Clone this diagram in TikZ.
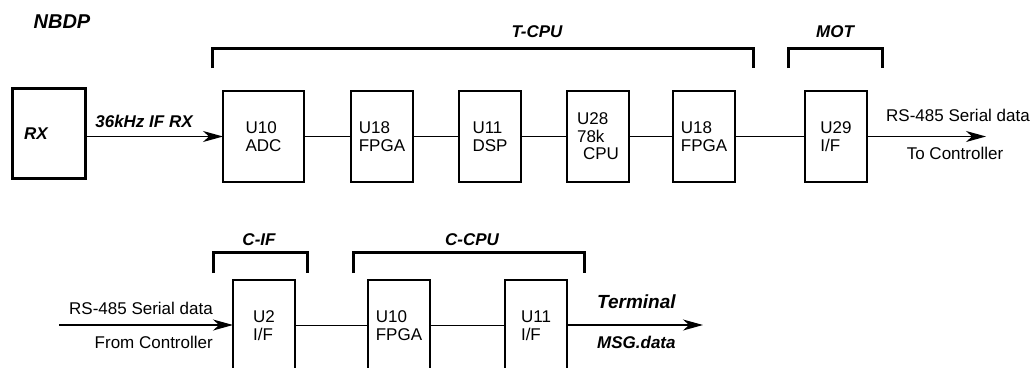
\documentclass[tikz,border=0pt]{standalone}
\usepackage{fontspec}
\setmainfont{Liberation Sans}
\usetikzlibrary{positioning,arrows.meta}

\begin{document}
\begin{tikzpicture}[x=1pt,y=-1pt,>={Stealth[length=20pt,width=11pt,inset=6pt]},
  font=\fontsize{17}{17.5}\selectfont,
  blk/.style={rectangle,draw=black,line width=1.3pt,minimum width=62pt,minimum height=91pt,inner sep=0pt,outer sep=0pt,align=left},
  bi/.style={font=\fontsize{17}{17.5}\selectfont\bfseries\itshape,inner sep=0pt},
  txt/.style={inner sep=0pt},
  brk/.style={line width=3pt},
  ln/.style={line width=1.3pt},
  ar/.style={->,line width=1.3pt}]
\useasboundingbox (0,0) rectangle (1036,367);
\clip (0,0) rectangle (1036,367);
% top row: T-CPU and MOT
\node[bi,font=\fontsize{20}{20}\selectfont\bfseries\itshape](nbdp) at (62,22){NBDP};
\node[rectangle,draw=black,line width=3pt,minimum width=73pt,minimum height=90pt,inner sep=0pt,outer sep=0pt](rx) at (48.5,133){};
\node[bi,anchor=west](rxl) at (24,134){RX};
\node[blk,minimum width=81pt](u10) at (263.5,136.5){U10\\ADC};
\node[blk,right=47pt of u10](u18){U18\\FPGA};
\node[blk,right=46pt of u18](u11){U11\\DSP};
\node[blk,right=46pt of u11](u28){U28\\78k\\\hspace*{6pt}CPU};
\node[blk,right=44pt of u28](u18b){U18\\FPGA};
\node[blk,right=70pt of u18b](u29){U29\\I/F};
\coordinate (out1) at (986,136.5);
\draw[ar](rx.east |- u10.west)--(u10.west);
\node[bi](lif) at (144,121){36kHz IF RX};
\draw[ln](u10)--(u18);\draw[ln](u18)--(u11);\draw[ln](u11)--(u28);
\draw[ln](u28)--(u18b);\draw[ln](u18b)--(u29);
\draw[ar](u29)--(out1);
\node[txt](lrs1) at (958,115){RS-485 Serial data};
\node[txt](lto) at (955,153){To Controller};
\draw[brk](212,68)--(212,48)--(753,48)--(753,68);
\node[bi](tcpu) at (537,32){T-CPU};
\draw[brk](788,68)--(788,48)--(882,48)--(882,68);
\node[bi](mot) at (835,32){MOT};
% bottom row: C-IF and C-CPU
\coordinate (in2) at (59,325);
\node[blk](cu2) at (264,325.5){U2\\I/F};
\node[blk,right=73pt of cu2](cu10){U10\\FPGA};
\node[blk,right=75pt of cu10](cu11){U11\\I/F};
\coordinate (out2) at (703,325);
\draw[ar](in2)--(cu2.west |- in2);
\node[txt,anchor=east](lrs2) at (213,308){RS-485 Serial data};
\node[txt,anchor=east](lfrom) at (213,342){From Controller};
\draw[ln](cu2)--(cu10);\draw[ln](cu10)--(cu11);
\draw[ar](cu11.east |- out2)--(out2);
\node[bi,anchor=west,font=\fontsize{19}{19}\selectfont\bfseries\itshape](lterm) at (597,302){Terminal};
\node[bi,anchor=west](lmsg) at (597,342){MSG.data};
\draw[brk](213,273)--(213,252)--(307,252)--(307,273);
\node[bi](cif) at (259,240){C-IF};
\draw[brk](353,273)--(353,252)--(584,252)--(584,273);
\node[bi](ccpu) at (472,240){C-CPU};
\end{tikzpicture}
\end{document}
